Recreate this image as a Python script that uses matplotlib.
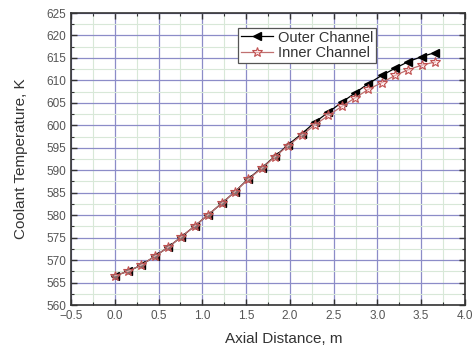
import numpy as np
import matplotlib
matplotlib.use("Agg")
import matplotlib.pyplot as plt
from matplotlib.ticker import MultipleLocator

plt.rcParams['font.family'] = ['Liberation Sans', 'DejaVu Sans']

axial = [0.0, 0.152, 0.305, 0.457, 0.61, 0.762, 0.915, 1.067, 1.22, 1.372, 1.525,
         1.677, 1.83, 1.982, 2.135, 2.287, 2.44, 2.592, 2.745, 2.897, 3.05,
         3.202, 3.355, 3.507, 3.66]
outer = [566.5, 567.5, 568.9, 570.85, 572.85, 575.2, 577.6, 580.1, 582.6, 585.2,
         588.1, 590.5, 593.1, 595.7, 598.1, 600.7, 602.9, 605.1, 607.2, 609.3,
         611.1, 612.7, 614.2, 615.3, 616.2]
inner = [566.5, 567.5, 568.9, 570.85, 572.85, 575.2, 577.6, 580.1, 582.6, 585.2,
         588.0, 590.4, 593.0, 595.5, 597.8, 600.1, 602.2, 604.2, 606.1, 608.0,
         609.5, 611.1, 612.4, 613.4, 614.1]

fig = plt.figure(figsize=(4.73, 3.52), dpi=100)
ax = fig.add_axes([0.150, 0.1335, 0.833, 0.8295])

ax.set_xlim(-0.5, 4.0)
ax.set_ylim(560, 625)
ax.xaxis.set_major_locator(MultipleLocator(0.5))
ax.xaxis.set_minor_locator(MultipleLocator(0.25))
ax.yaxis.set_major_locator(MultipleLocator(5))
ax.yaxis.set_minor_locator(MultipleLocator(2.5))

ax.grid(which='minor', color='#d8e8d8', linewidth=0.8)
ax.grid(which='major', color='#8c8cc8', linewidth=0.9)
ax.set_axisbelow(True)

ax.plot(axial, outer, color='black', linewidth=0.9, marker='<', markersize=5.5,
        markerfacecolor='black', markeredgecolor='black', label='Outer Channel', zorder=3)
ax.plot(axial, inner, color='#c07070', linewidth=0.9, marker='*', markersize=7.5,
        markerfacecolor=(1, 0.88, 0.88, 0.5), markeredgecolor='#c05050', markeredgewidth=0.8,
        label='Inner Channel', zorder=4)

ax.tick_params(which='both', direction='in', top=True, right=True, colors='#333333',
               labelcolor='#555555', labelsize=8.5)
ax.tick_params(which='major', length=4, width=1)
ax.tick_params(which='minor', length=2, width=0.8)
for s in ax.spines.values():
    s.set_color('#333333')
    s.set_linewidth(1.2)

ax.set_xlabel('Axial Distance, m', fontsize=11, color='#333333')
ax.set_ylabel('Coolant Temperature, K', fontsize=11, color='#333333')
ax.xaxis.set_label_coords(0.54, -0.093)
ax.yaxis.set_label_coords(-0.108, 0.5)

leg = ax.legend(loc='upper left', bbox_to_anchor=(0.425, 0.95), fontsize=10.5,
                frameon=True, fancybox=False, edgecolor='#555555', framealpha=1,
                handlelength=2.2, handletextpad=0.3, borderpad=0.2, labelspacing=0.1,
                borderaxespad=0)
leg.get_frame().set_linewidth(0.9)
for t in leg.get_texts():
    t.set_color('#333333')

fig.savefig('out.png', dpi=100)
